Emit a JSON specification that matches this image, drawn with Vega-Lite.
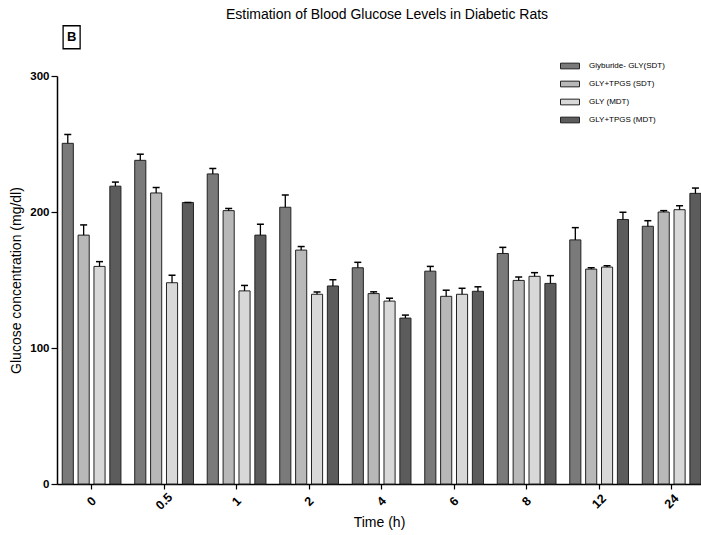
{
  "$schema": "https://vega.github.io/schema/vega-lite/v6.json",
  "width": 644,
  "height": 408,
  "autosize": "none",
  "padding": {"left": 57, "top": 76, "right": 0, "bottom": 51},
  "background": "white",
  "title": {
    "text": "Estimation of Blood Glucose Levels in Diabetic Rats",
    "font": "Liberation Sans",
    "fontSize": 14,
    "fontWeight": "normal",
    "color": "black",
    "anchor": "middle",
    "frame": "group",
    "dx": 8,
    "offset": 1
  },
  "config": {
    "view": {"stroke": null},
    "axis": {"domainColor": "black", "tickColor": "black", "labelColor": "black", "titleColor": "black", "grid": false}
  },
  "datasets": {
    "glucose": [
      {"time": "0", "group": "Glyburide- GLY(SDT)", "mean": 250.5, "upper": 257},
      {"time": "0", "group": "GLY+TPGS (SDT)", "mean": 183, "upper": 190.5},
      {"time": "0", "group": "GLY (MDT)", "mean": 160, "upper": 163.5},
      {"time": "0", "group": "GLY+TPGS (MDT)", "mean": 219, "upper": 222},
      {"time": "0.5", "group": "Glyburide- GLY(SDT)", "mean": 238, "upper": 242.5},
      {"time": "0.5", "group": "GLY+TPGS (SDT)", "mean": 214, "upper": 218},
      {"time": "0.5", "group": "GLY (MDT)", "mean": 148, "upper": 153.5},
      {"time": "0.5", "group": "GLY+TPGS (MDT)", "mean": 207, "upper": 207},
      {"time": "1", "group": "Glyburide- GLY(SDT)", "mean": 228, "upper": 232},
      {"time": "1", "group": "GLY+TPGS (SDT)", "mean": 201, "upper": 202.6},
      {"time": "1", "group": "GLY (MDT)", "mean": 142, "upper": 146},
      {"time": "1", "group": "GLY+TPGS (MDT)", "mean": 183, "upper": 191},
      {"time": "2", "group": "Glyburide- GLY(SDT)", "mean": 203.5, "upper": 212.5},
      {"time": "2", "group": "GLY+TPGS (SDT)", "mean": 172, "upper": 174.6},
      {"time": "2", "group": "GLY (MDT)", "mean": 139.5, "upper": 141.2},
      {"time": "2", "group": "GLY+TPGS (MDT)", "mean": 145.6, "upper": 150.2},
      {"time": "4", "group": "Glyburide- GLY(SDT)", "mean": 159, "upper": 163},
      {"time": "4", "group": "GLY+TPGS (SDT)", "mean": 140, "upper": 141.3},
      {"time": "4", "group": "GLY (MDT)", "mean": 134.5, "upper": 136.6},
      {"time": "4", "group": "GLY+TPGS (MDT)", "mean": 122, "upper": 124.2},
      {"time": "6", "group": "Glyburide- GLY(SDT)", "mean": 156.5, "upper": 160},
      {"time": "6", "group": "GLY+TPGS (SDT)", "mean": 138, "upper": 142.5},
      {"time": "6", "group": "GLY (MDT)", "mean": 139.5, "upper": 143.9},
      {"time": "6", "group": "GLY+TPGS (MDT)", "mean": 141.7, "upper": 145},
      {"time": "8", "group": "Glyburide- GLY(SDT)", "mean": 169.5, "upper": 174},
      {"time": "8", "group": "GLY+TPGS (SDT)", "mean": 149.7, "upper": 152.2},
      {"time": "8", "group": "GLY (MDT)", "mean": 152.7, "upper": 155.4},
      {"time": "8", "group": "GLY+TPGS (MDT)", "mean": 147.5, "upper": 153.2},
      {"time": "12", "group": "Glyburide- GLY(SDT)", "mean": 179.5, "upper": 188.5},
      {"time": "12", "group": "GLY+TPGS (SDT)", "mean": 158, "upper": 159},
      {"time": "12", "group": "GLY (MDT)", "mean": 159.5, "upper": 160.5},
      {"time": "12", "group": "GLY+TPGS (MDT)", "mean": 194.5, "upper": 199.8},
      {"time": "24", "group": "Glyburide- GLY(SDT)", "mean": 189.5, "upper": 193.6},
      {"time": "24", "group": "GLY+TPGS (SDT)", "mean": 200, "upper": 201},
      {"time": "24", "group": "GLY (MDT)", "mean": 201.7, "upper": 204.6},
      {"time": "24", "group": "GLY+TPGS (MDT)", "mean": 213.7, "upper": 217.6}
    ],
    "panel": [
      {"time": "0", "label": "B", "ypos": 328.5}
    ]
  },
  "layer": [
    {
      "data": {"name": "glucose"},
      "mark": {"type": "bar", "stroke": "#222222", "strokeWidth": 1},
      "encoding": {
        "x": {
          "field": "time", "type": "nominal",
          "sort": ["0", "0.5", "1", "2", "4", "6", "8", "12", "24"],
          "scale": {"paddingInner": 0.19, "paddingOuter": 0.036, "align": 1},
          "axis": {
            "title": "Time (h)", "titleFont": "Liberation Sans", "titleFontSize": 14, "titleFontWeight": "normal", "titlePadding": 4,
            "labelAngle": -45, "labelAlign": "center", "labelBaseline": "middle", "labelPadding": 12,
            "labelFont": "Liberation Sans", "labelFontSize": 12.5, "labelFontWeight": "bold",
            "tickSize": 5, "domainWidth": 1.5, "tickWidth": 1.2
          }
        },
        "xOffset": {
          "field": "group", "type": "nominal",
          "sort": ["Glyburide- GLY(SDT)", "GLY+TPGS (SDT)", "GLY (MDT)", "GLY+TPGS (MDT)"],
          "scale": {"paddingInner": 0.3, "paddingOuter": 0}
        },
        "y": {
          "field": "mean", "type": "quantitative",
          "scale": {"domain": [0, 300], "nice": false, "zero": true},
          "axis": {
            "title": "Glucose concentration (mg/dl)", "titleFont": "Liberation Sans", "titleFontSize": 14, "titleFontWeight": "normal", "titlePadding": 6,
            "values": [0, 100, 200, 300], "labelFont": "Liberation Sans", "labelFontSize": 11.5, "labelFontWeight": "bold",
            "tickSize": 6, "labelPadding": 2, "domainWidth": 1.5, "tickWidth": 1.2
          }
        },
        "fill": {
          "field": "group", "type": "nominal",
          "sort": ["Glyburide- GLY(SDT)", "GLY+TPGS (SDT)", "GLY (MDT)", "GLY+TPGS (MDT)"],
          "scale": {
            "domain": ["Glyburide- GLY(SDT)", "GLY+TPGS (SDT)", "GLY (MDT)", "GLY+TPGS (MDT)"],
            "range": ["#7a7a7a", "#b8b8b8", "#d8d8d8", "#5c5c5c"]
          },
          "legend": {
            "title": null, "orient": "none", "legendX": 503, "legendY": -20, "padding": 0,
            "symbolType": "M-1,-0.3L1,-0.3L1,0.3L-1,0.3Z", "symbolSize": 361,
            "symbolStrokeColor": "#222222", "symbolStrokeWidth": 1, "symbolOpacity": 1,
            "labelFont": "Liberation Sans", "labelFontSize": 8, "labelColor": "black",
            "labelOffset": 9, "rowPadding": 3
          }
        }
      }
    },
    {
      "data": {"name": "glucose"},
      "mark": {"type": "rule", "color": "black", "strokeWidth": 1.3},
      "encoding": {
        "x": {"field": "time", "type": "nominal", "sort": ["0", "0.5", "1", "2", "4", "6", "8", "12", "24"]},
        "xOffset": {"field": "group", "type": "nominal", "sort": ["Glyburide- GLY(SDT)", "GLY+TPGS (SDT)", "GLY (MDT)", "GLY+TPGS (MDT)"]},
        "y": {"field": "mean", "type": "quantitative"},
        "y2": {"field": "upper"}
      }
    },
    {
      "data": {"name": "glucose"},
      "mark": {"type": "tick", "color": "black", "size": 7, "thickness": 1.5, "orient": "horizontal", "opacity": 1},
      "encoding": {
        "x": {"field": "time", "type": "nominal", "sort": ["0", "0.5", "1", "2", "4", "6", "8", "12", "24"]},
        "xOffset": {"field": "group", "type": "nominal", "sort": ["Glyburide- GLY(SDT)", "GLY+TPGS (SDT)", "GLY (MDT)", "GLY+TPGS (MDT)"]},
        "y": {"field": "upper", "type": "quantitative"}
      }
    },
    {
      "data": {"name": "panel"},
      "mark": {"type": "point", "shape": "M-0.74,-1L0.74,-1L0.74,1L-0.74,1Z", "size": 529, "filled": false, "stroke": "black", "strokeWidth": 1.3, "opacity": 1},
      "encoding": {
        "x": {"field": "time", "type": "nominal", "sort": ["0", "0.5", "1", "2", "4", "6", "8", "12", "24"], "bandPosition": 0.16},
        "y": {"field": "ypos", "type": "quantitative"}
      }
    },
    {
      "data": {"name": "panel"},
      "mark": {"type": "text", "font": "Liberation Sans", "fontSize": 13, "fontWeight": "bold", "color": "black", "align": "center", "baseline": "middle"},
      "encoding": {
        "x": {"field": "time", "type": "nominal", "sort": ["0", "0.5", "1", "2", "4", "6", "8", "12", "24"], "bandPosition": 0.16},
        "y": {"field": "ypos", "type": "quantitative"},
        "text": {"field": "label"}
      }
    }
  ]
}
